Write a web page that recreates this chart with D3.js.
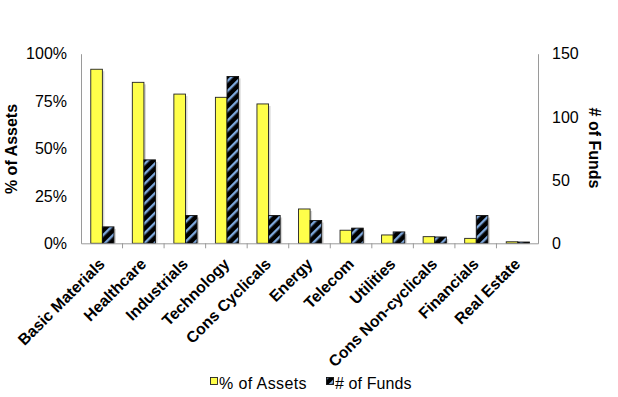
<!DOCTYPE html>
<html>
<head>
<meta charset="utf-8">
<script src="https://cdn.jsdelivr.net/npm/d3@7"></script>
<style>
  html, body { margin: 0; padding: 0; background: #fff; }
  svg { display: block; font-family: "Liberation Sans", Arial, sans-serif; }
</style>
</head>
<body>
<svg id="chart" width="618" height="397"></svg>
<script>
const categories = ["Basic Materials", "Healthcare", "Industrials", "Technology", "Cons Cyclicals",
  "Energy", "Telecom", "Utilities", "Cons Non-cyclicals", "Financials", "Real Estate"];
const pctAssets = [0.918, 0.849, 0.787, 0.770, 0.735, 0.181, 0.069, 0.044, 0.035, 0.026, 0.008];
const numFunds = [13, 66, 22, 132, 22, 18, 12, 9, 5, 22, 1];
const leftTicks = [0, 0.25, 0.5, 0.75, 1];
const rightTicks = [0, 50, 100, 150];
const seriesNames = ["% of Assets", "# of Funds"];

const svg = d3.select("#chart");
const m = { left: 81, right: 538, top: 53.7, bottom: 243.3 };

const x = d3.scaleBand().domain(categories).range([m.left, m.right]).padding(0);
const yL = d3.scaleLinear().domain([0, 1]).range([m.bottom, m.top]);
const yR = d3.scaleLinear().domain([0, 150]).range([m.bottom, m.top]);

// stripe pattern
const defs = svg.append("defs");
const pat = defs.append("pattern").attr("id", "stripes")
  .attr("patternUnits", "userSpaceOnUse").attr("width", 7).attr("height", 7)
  .attr("patternTransform", "rotate(45)");
pat.append("rect").attr("width", 7).attr("height", 7).attr("fill", "#000");
pat.append("rect").attr("x", 0).attr("y", 0).attr("width", 2.4).attr("height", 7).attr("fill", "#7EA8DC");

const axisColor = "#9a9a9a";
const bw = 11.6;
const cx = d => x(d) + x.bandwidth() / 2 + 0.6;

// shadows
const g = svg.append("g");
g.selectAll(".shA").data(categories).join("rect")
  .attr("x", d => cx(d) - bw + 2).attr("y", (d, i) => yL(pctAssets[i]) + 2)
  .attr("width", bw).attr("height", (d, i) => Math.max(0, m.bottom - yL(pctAssets[i]) - 2))
  .attr("fill", "#d6d6d6");
g.selectAll(".shB").data(categories).join("rect")
  .attr("x", d => cx(d) + 2).attr("y", (d, i) => yR(numFunds[i]) + 2)
  .attr("width", bw).attr("height", (d, i) => Math.max(0, m.bottom - yR(numFunds[i]) - 2))
  .attr("fill", "#d6d6d6");

// bars
g.selectAll(".barA").data(categories).join("rect")
  .attr("x", d => cx(d) - bw).attr("y", (d, i) => yL(pctAssets[i]))
  .attr("width", bw).attr("height", (d, i) => m.bottom - yL(pctAssets[i]))
  .attr("fill", "#FFFF4A").attr("stroke", "#222").attr("stroke-width", 0.9);
g.selectAll(".barB").data(categories).join("rect")
  .attr("x", d => cx(d)).attr("y", (d, i) => yR(numFunds[i]))
  .attr("width", bw).attr("height", (d, i) => m.bottom - yR(numFunds[i]))
  .attr("fill", "url(#stripes)").attr("stroke", "#111").attr("stroke-width", 0.9);

// axes
const axL = svg.append("g").attr("transform", `translate(${m.left},0)`)
  .call(d3.axisLeft(yL).tickValues(leftTicks).tickFormat(d3.format(".0%")).tickSize(0).tickPadding(14));
const axR = svg.append("g").attr("transform", `translate(${m.right},0)`)
  .call(d3.axisRight(yR).tickValues(rightTicks).tickSize(0).tickPadding(14));
[axL, axR].forEach(a => {
  a.select(".domain").attr("stroke", axisColor);
  a.selectAll("text").attr("font-size", 16).attr("fill", "#000")
    .attr("font-family", '"Liberation Sans", Arial, sans-serif');
});

// baseline with tick marks between categories
const axB = svg.append("g").attr("transform", `translate(0,${m.bottom})`)
  .call(d3.axisBottom(x).tickSize(0).tickFormat(""));
axB.select(".domain").attr("stroke", axisColor);
axB.selectAll(".tick").remove();
axB.selectAll(".sep").data(categories.slice(1)).join("line")
  .attr("x1", d => x(d)).attr("x2", d => x(d)).attr("y1", 0).attr("y2", 5)
  .attr("stroke", axisColor);

// category labels
svg.append("g").selectAll("text").data(categories).join("text")
  .attr("transform", d => `translate(${x(d) + x.bandwidth() / 2 + 4},265) rotate(-45)`)
  .attr("text-anchor", "end").attr("font-size", 15.8).attr("font-weight", "bold")
  .text(d => d);

// axis titles
svg.append("text").attr("transform", `translate(17,149) rotate(-90)`)
  .attr("text-anchor", "middle").attr("font-size", 16).attr("font-weight", "bold")
  .text(seriesNames[0]);
svg.append("text").attr("transform", `translate(589,148) rotate(90)`)
  .attr("text-anchor", "middle").attr("font-size", 16).attr("font-weight", "bold")
  .text(seriesNames[1]);

// legend
const leg = svg.append("g");
leg.append("rect").attr("x", 210.5).attr("y", 377.5).attr("width", 7).attr("height", 7)
  .attr("fill", "#FFFF4A").attr("stroke", "#222").attr("stroke-width", 0.9);
leg.append("text").attr("x", 219).attr("y", 389).attr("font-size", 16).attr("letter-spacing", 0.4)
  .text(seriesNames[0]);
leg.append("rect").attr("x", 326.5).attr("y", 377.5).attr("width", 7).attr("height", 7)
  .attr("fill", "url(#stripes)").attr("stroke", "#111").attr("stroke-width", 0.9);
leg.append("text").attr("x", 335).attr("y", 389).attr("font-size", 16).attr("letter-spacing", 0.1)
  .text(seriesNames[1]);
</script>
</body>
</html>
